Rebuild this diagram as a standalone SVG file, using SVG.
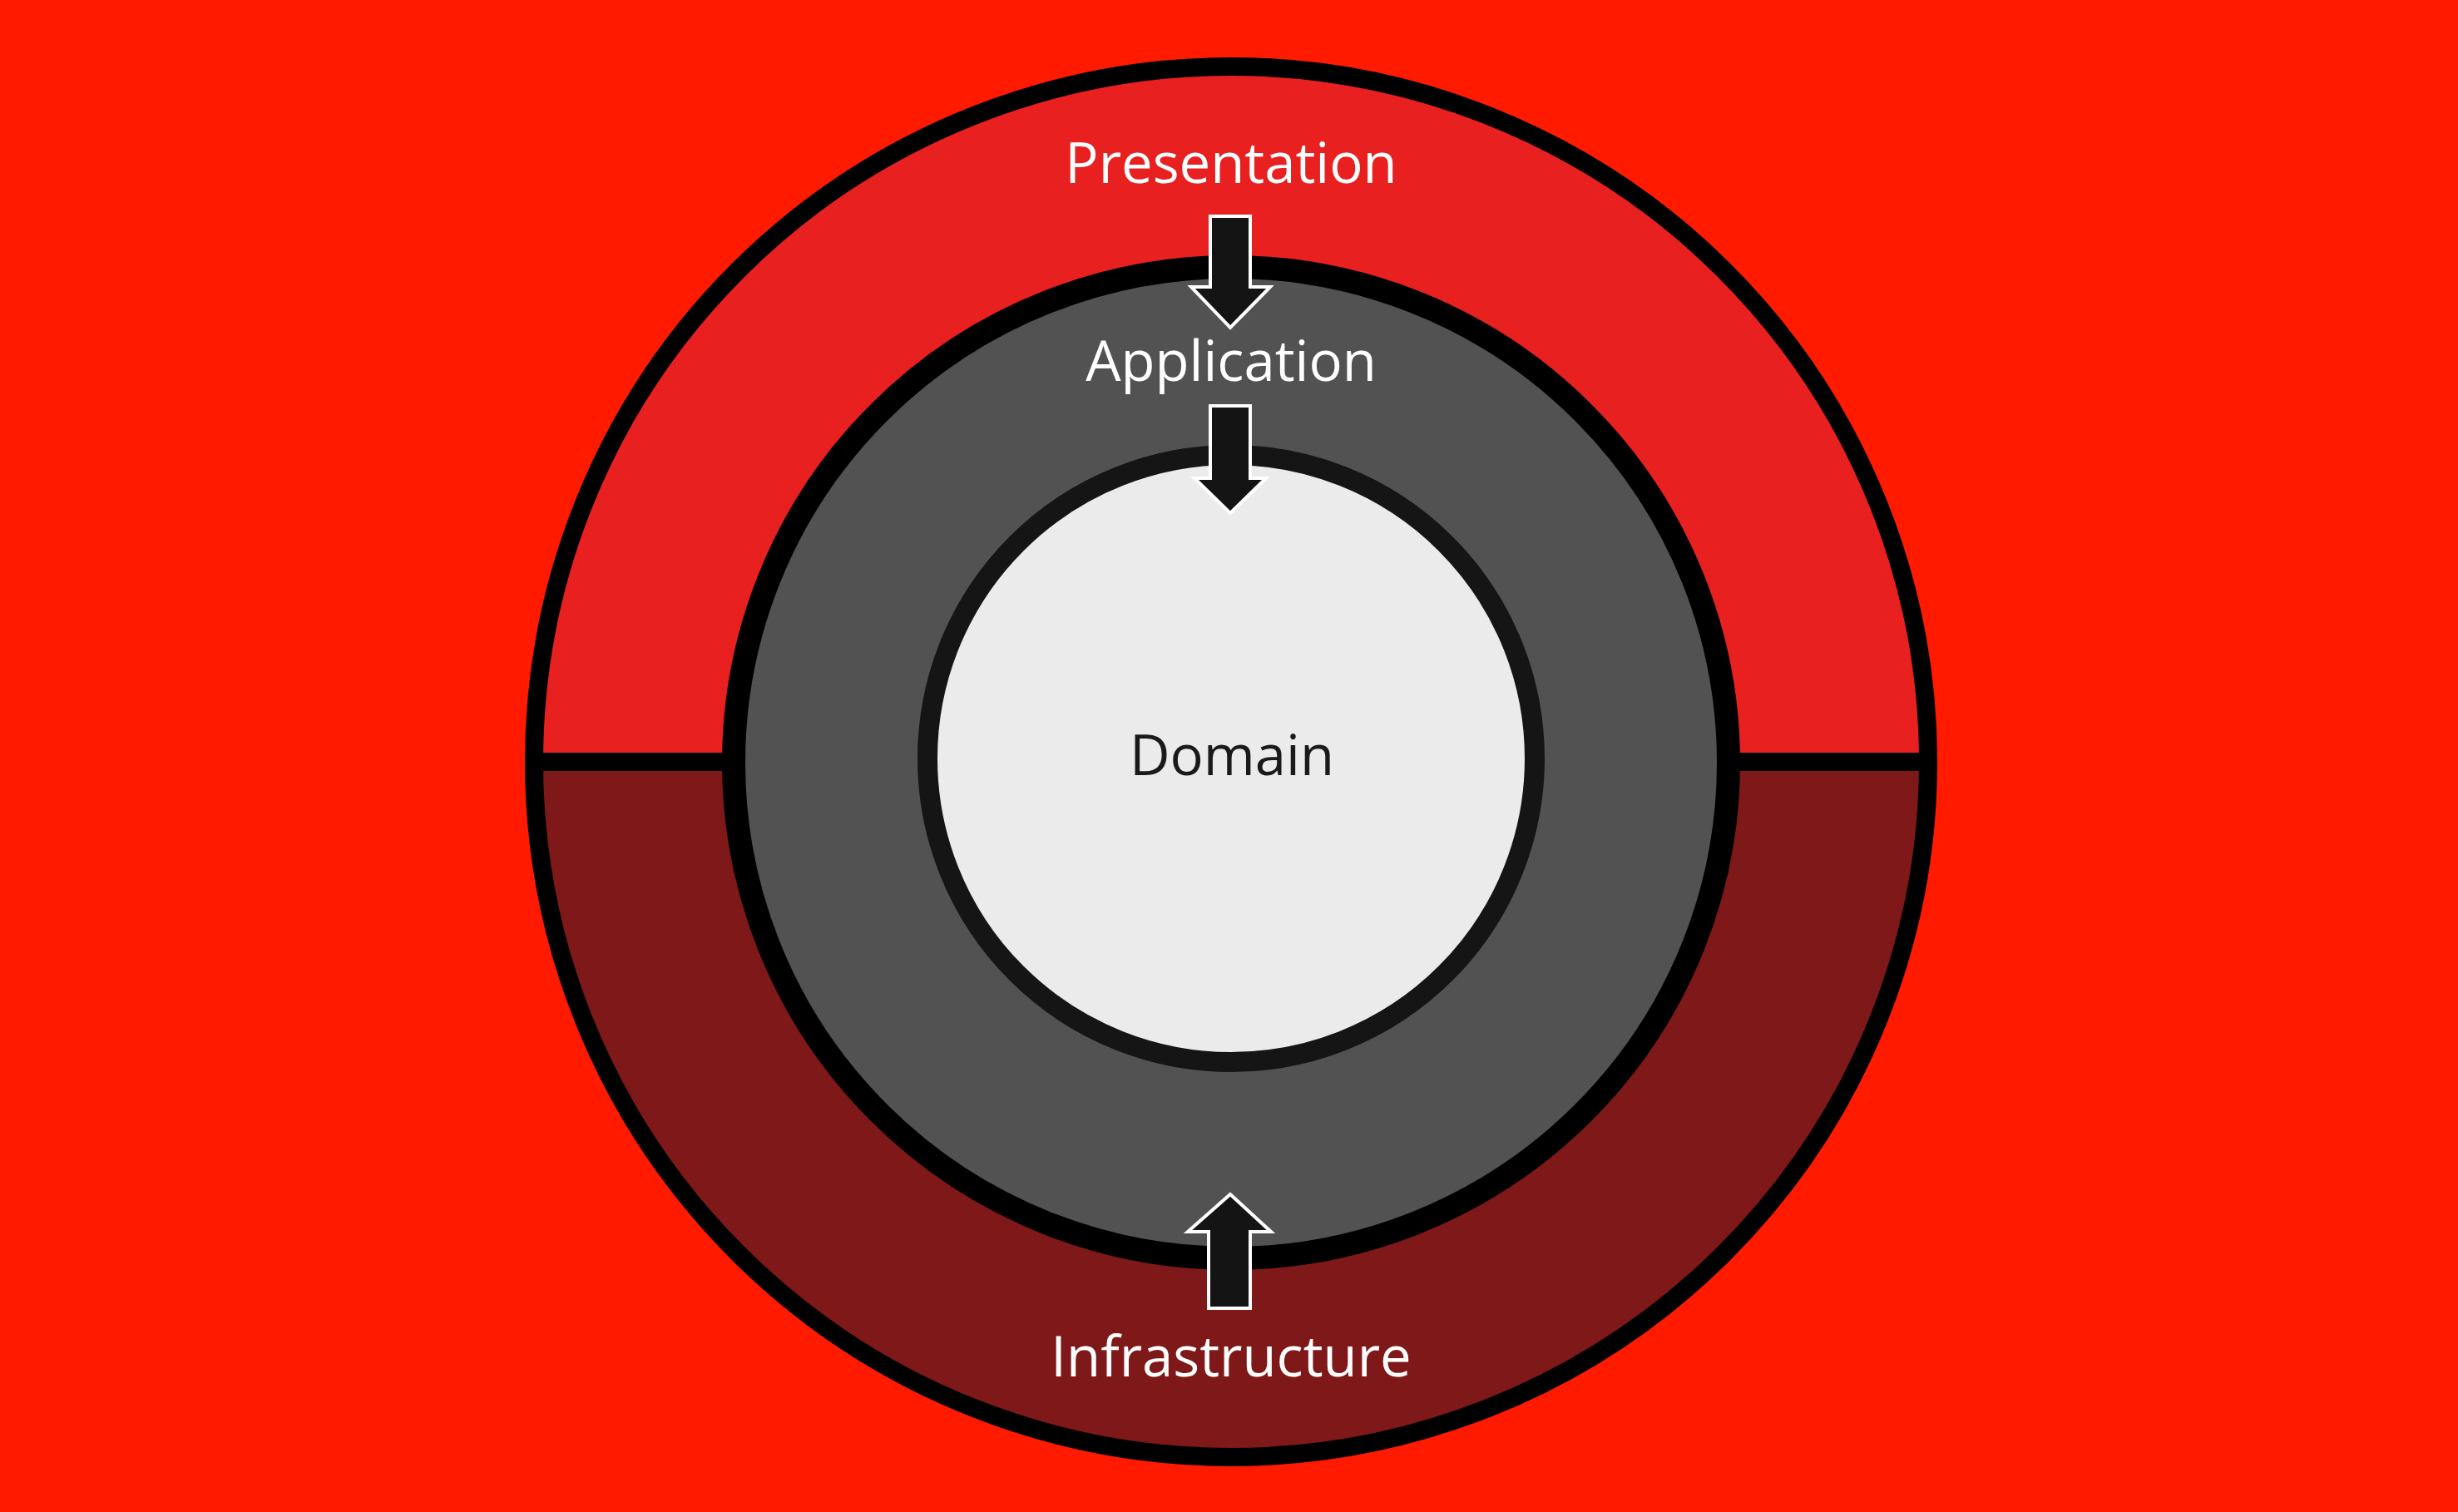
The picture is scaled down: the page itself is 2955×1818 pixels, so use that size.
<svg xmlns="http://www.w3.org/2000/svg" width="2955" height="1818" viewBox="0 0 2955 1818">
<style>
.lbl{font-family:"Open Sans","Liberation Sans",sans-serif;font-size:67px;fill:#ffffff;text-anchor:middle}
.dom{font-family:"Open Sans","Liberation Sans",sans-serif;font-size:67px;fill:#1a1a1a;text-anchor:middle}
.arr{fill:#141414;stroke:#ffffff;stroke-width:4;stroke-linejoin:miter}
</style>
<rect width="2955" height="1818" fill="#ff1a00"/>
<g id="outer">
<path d="M642,916 A838,836 0 0 1 2318,916 Z" fill="#e82020"/>
<path d="M642,916 A838,836 0 0 0 2318,916 Z" fill="#7f1818"/>
<ellipse cx="1480" cy="916" rx="838" ry="836" fill="none" stroke="#000" stroke-width="22"/>
<line x1="642" y1="916" x2="2318" y2="916" stroke="#000" stroke-width="22"/>
</g>
<g id="application">
<ellipse cx="1480" cy="917" rx="598" ry="596" fill="#525252" stroke="#000" stroke-width="28"/>
</g>
<g id="domain">
<ellipse cx="1480" cy="912" rx="365" ry="365" fill="#ebebeb" stroke="#151515" stroke-width="24"/>
<text class="dom" x="1481" y="932">Domain</text>
</g>
<g id="labels">
<text class="lbl" x="1480" y="220">Presentation</text>
<text class="lbl" x="1480" y="458">Application</text>
<text class="lbl" x="1480" y="1655">Infrastructure</text>
</g>
<g id="connectors">
<path class="arr" d="M1455,260 H1503 V345 H1527 L1479,394 L1432,345 H1455 Z"/>
<path class="arr" d="M1455,488 H1503 V575 H1522 L1479,617 L1436,575 H1455 Z"/>
<path class="arr" d="M1453,1573 H1503 V1481 H1528 L1479,1436 L1428,1481 H1453 Z"/>
</g>
</svg>
